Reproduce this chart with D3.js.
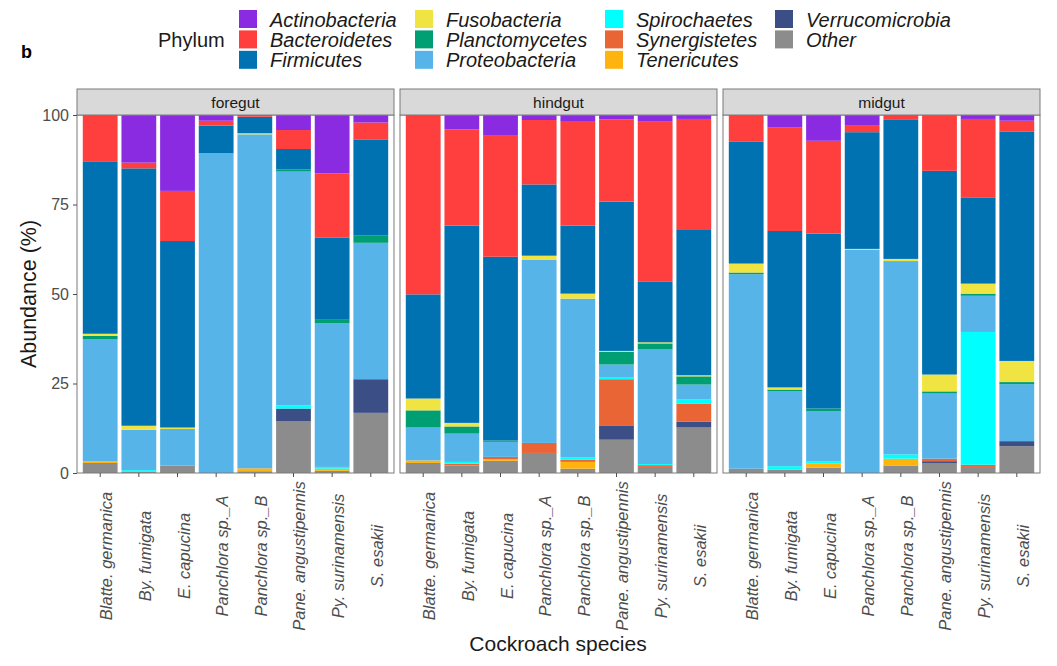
<!DOCTYPE html>
<html><head><meta charset="utf-8">
<script src="https://cdn.jsdelivr.net/npm/d3@7"></script>
<style>body{margin:0;background:#fff;} text{font-family:"Liberation Sans",Arial,sans-serif;}</style>
</head><body><svg id="c" width="1057" height="666"></svg>
<script>
const guts = ["foregut", "hindgut", "midgut"];
const species = ["Blatte. germanica", "By. fumigata", "E. capucina", "Panchlora sp._A", "Panchlora sp._B", "Pane. angustipennis", "Py. surinamensis", "S. esakii"];
const phyla = ["Actinobacteria", "Bacteroidetes", "Firmicutes", "Fusobacteria", "Planctomycetes", "Proteobacteria", "Spirochaetes", "Synergistetes", "Tenericutes", "Verrucomicrobia", "Other"];
const colors = ["#8A2BE2", "#FF3E3E", "#0072B2", "#F0E442", "#009E73", "#56B4E9", "#00FFFF", "#EA6535", "#FFB30F", "#3B4F86", "#8C8C8C"];
const yTicks = [0, 25, 50, 75, 100];
// values per phylum: foregut(8), hindgut(8), midgut(8) in species order
const actinobacteria = [0,13.3,21.2,1.6,0,4.2,16.3,2.1, 0,4.0,5.6,1.4,1.9,1.2,1.7,1.1, 0,3.4,7.2,3.0,0,0.2,1.1,1.6];
const bacteroidetes  = [13.1,1.6,14.0,1.4,0.5,5.3,18.0,4.7, 50.1,26.9,34.0,18.0,29.0,23.0,44.9,30.8, 7.5,29.0,25.9,1.8,1.2,15.4,21.9,3.1];
const firmicutes     = [48.0,71.9,52.1,7.7,4.6,5.7,22.9,26.9, 29.1,55.1,51.3,19.9,19.0,41.7,16.9,40.8, 34.0,43.7,48.9,32.6,39.0,56.9,24.1,64.0];
const fusobacteria   = [0.6,1.1,0.4,0,0.3,0,0,0, 3.3,1.0,0,1.2,1.4,0.3,0.3,0.3, 2.5,0.6,0,0.3,0.6,4.7,2.8,5.9];
const planctomycetes = [1.0,0,0,0,0,0.6,0.9,2.0, 4.8,2.0,0.4,0,0,3.5,1.7,2.3, 0.5,0.4,0.8,0,0,0.6,0.6,0.6];
const proteobacteria = [34.0,11.3,10.2,89.3,93.3,65.3,40.2,38.1, 9.2,7.9,4.2,51.1,44.3,3.5,32.0,4.2, 54.3,21.0,13.9,62.3,54.0,18.2,10.1,15.9];
const spirochaetes   = [0,0.5,0,0,0,0.9,0.5,0, 0,0.5,0,0,0.7,0.6,0.3,1.1, 0,1.0,0.7,0,1.2,0,37.1,0];
const synergistetes  = [0,0,0,0,0,0,0,0, 0,0.5,0.6,2.8,0.6,12.9,0.5,5.1, 0,0,0,0,0,0.7,0.6,0];
const tenericutes    = [0.5,0,0,0,0.8,0,0.6,0, 0.7,0,0.5,0,1.9,0,0,0, 0,0,1.1,0,1.9,0,0,0];
const verrucomicrobia= [0,0,0,0,0,3.6,0,9.4, 0,0,0,0,0,4.0,0,1.6, 0,0,0,0,0,0.5,0,1.4];
const other          = [2.8,0.3,2.1,0,0.5,14.4,0.6,16.8, 2.8,2.1,3.4,5.6,1.2,9.3,1.7,12.7, 1.2,0.9,1.5,0,2.1,2.8,1.7,7.5];
const seriesVals = [actinobacteria, bacteroidetes, firmicutes, fusobacteria, planctomycetes, proteobacteria, spirochaetes, synergistetes, tenericutes, verrucomicrobia, other];

const svg = d3.select("#c");
const color = d3.scaleOrdinal().domain(phyla).range(colors);
const panelX = [[77, 394], [400, 717], [723, 1040]];
const plotTop = 115, plotBottom = 473, stripTop = 89;
const y = d3.scaleLinear().domain([0, 100]).range([plotBottom, plotTop]);

const stackKeys = phyla.slice().reverse(); // bottom first
const stack = d3.stack().keys(stackKeys);

guts.forEach((g, gi) => {
  const [x0, x1] = panelX[gi];
  const x = d3.scaleBand().domain(species).range([x0, x1]).paddingInner(0.1).paddingOuter(0.15);
  const rows = species.map((s, si) => {
    const r = {species: s};
    phyla.forEach((p, pi) => r[p] = seriesVals[pi][gi * 8 + si]);
    return r;
  });
  const layers = stack(rows);
  const pg = svg.append("g");
  pg.selectAll("g.layer").data(layers).join("g").attr("fill", d => color(d.key))
    .selectAll("rect").data(d => d).join("rect")
    .attr("x", d => x(d.data.species)).attr("width", x.bandwidth())
    .attr("y", d => y(d[1])).attr("height", d => y(d[0]) - y(d[1]));
  svg.append("rect").attr("x", x0).attr("y", plotTop).attr("width", x1 - x0).attr("height", plotBottom - plotTop)
    .attr("fill", "none").attr("stroke", "#7a7a7a").attr("stroke-width", 1);
  svg.append("rect").attr("x", x0).attr("y", stripTop).attr("width", x1 - x0).attr("height", plotTop - stripTop)
    .attr("fill", "#D9D9D9").attr("stroke", "#7a7a7a").attr("stroke-width", 1);
  svg.append("text").attr("x", (x0 + x1) / 2).attr("y", 107.5)
    .attr("text-anchor", "middle").attr("font-size", 15.5).attr("fill", "#1a1a1a").text(g);
  const xa = svg.append("g").attr("transform", `translate(0,${plotBottom})`)
    .call(d3.axisBottom(x).tickSize(4).tickSizeOuter(0));
  xa.select(".domain").remove();
  xa.selectAll(".tick line").attr("stroke", "#4d4d4d");
  xa.selectAll(".tick text").attr("transform", "rotate(-90)").attr("text-anchor", "middle")
    .attr("x", -83).attr("y", 12).attr("dy", 0)
    .attr("font-size", 16.5).attr("font-style", "italic").attr("fill", "#4d4d4d")
    .attr("font-family", "Liberation Sans, Arial, sans-serif");
});

const ya = svg.append("g").attr("transform", `translate(${panelX[0][0]},0)`)
  .call(d3.axisLeft(y).tickValues(yTicks).tickSize(4).tickSizeOuter(0).tickPadding(4));
ya.select(".domain").remove();
ya.selectAll(".tick line").attr("stroke", "#4d4d4d");
ya.selectAll(".tick text").attr("font-size", 16).attr("fill", "#4d4d4d")
  .attr("font-family", "Liberation Sans, Arial, sans-serif");

svg.append("text").attr("transform", `translate(36,${(plotTop + plotBottom) / 2}) rotate(-90)`)
  .attr("text-anchor", "middle").attr("font-size", 21.5).attr("fill", "#1a1a1a").text("Abundance (%)");
svg.append("text").attr("x", 558).attr("y", 651)
  .attr("text-anchor", "middle").attr("font-size", 21).attr("fill", "#1a1a1a").text("Cockroach species");
svg.append("text").attr("x", 21).attr("y", 58).attr("font-size", 18).attr("font-weight", "bold").text("b");

svg.append("text").attr("x", 158).attr("y", 47).attr("font-size", 20).attr("fill", "#1a1a1a").text("Phylum");
const colX = [239, 415, 605, 775];
phyla.forEach((p, i) => {
  const c = Math.floor(i / 3), r = i % 3;
  const ky = 10 + r * 20.4;
  svg.append("rect").attr("x", colX[c]).attr("y", ky).attr("width", 18).attr("height", 18).attr("fill", color(p));
  svg.append("text").attr("x", colX[c] + 31).attr("y", ky + 16.5).attr("font-size", 20)
    .attr("font-style", "italic").attr("fill", "#1a1a1a").text(p);
});
</script></body></html>
